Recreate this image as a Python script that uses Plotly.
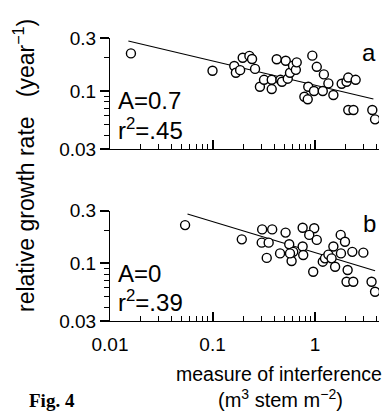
import plotly.graph_objects as go
from plotly.subplots import make_subplots

# ---- data ----
top_x = [0.016, 0.100, 0.163, 0.169, 0.186, 0.197, 0.229, 0.243, 0.26, 0.29,
         0.318, 0.378, 0.378, 0.423, 0.46, 0.476, 0.518, 0.542, 0.57, 0.61,
         0.65, 0.663, 0.787, 0.849, 0.859, 0.941, 0.977, 1.04, 1.19, 1.22,
         1.35, 1.51, 1.82, 2.03, 2.11, 2.49, 2.11, 2.37, 3.62, 3.85]
top_y = [0.218, 0.152, 0.168, 0.146, 0.154, 0.199, 0.207, 0.194, 0.158, 0.109,
         0.126, 0.126, 0.104, 0.193, 0.126, 0.121, 0.187, 0.129, 0.146, 0.169,
         0.155, 0.181, 0.0887, 0.0841, 0.109, 0.208, 0.1, 0.165, 0.1, 0.141,
         0.117, 0.092, 0.116, 0.121, 0.132, 0.126, 0.0673, 0.0673, 0.0673, 0.0555]
top_fit_x = [0.0151, 3.71]
top_fit_y = [0.282, 0.0846]

bot_x = [0.054, 0.193, 0.305, 0.382, 0.302, 0.353, 0.338, 0.516, 0.456, 0.56,
         0.591, 0.613, 0.57, 0.757, 0.757, 0.767, 0.982, 0.878, 1.04, 0.96,
         1.19, 1.25, 1.35, 1.45, 1.51, 1.57, 1.78, 1.96, 1.79, 2.31,
         2.08, 2.03, 2.36, 2.96, 3.56, 3.85]
bot_y = [0.222, 0.165, 0.203, 0.203, 0.154, 0.154, 0.112, 0.19, 0.123, 0.149,
         0.105, 0.127, 0.123, 0.21, 0.142, 0.119, 0.208, 0.181, 0.163, 0.0839,
         0.1035, 0.111, 0.12, 0.111, 0.142, 0.093, 0.181, 0.157, 0.123, 0.127,
         0.0869, 0.068, 0.068, 0.125, 0.068, 0.0553]
bot_fit_x = [0.057, 3.85]
bot_fit_y = [0.28, 0.0857]

x_major = [0.01, 0.1, 1]
x_minor = [0.02, 0.03, 0.04, 0.05, 0.06, 0.07, 0.08, 0.09,
           0.2, 0.3, 0.4, 0.5, 0.6, 0.7, 0.8, 0.9, 2, 3, 4]
y_major = [0.03, 0.1, 0.3]
y_minor = [0.04, 0.05, 0.06, 0.07, 0.08, 0.09, 0.2]

panel_stats = [("A=0.7", "r<sup>2</sup>=.45", "a"), ("A=0", "r<sup>2</sup>=.39", "b")]

# ---- figure ----
FONT = "Liberation Sans, Arial, sans-serif"
fig = make_subplots(rows=2, cols=1, vertical_spacing=0.218)

marker = dict(symbol="circle", size=9, color="white", line=dict(color="black", width=1.4))
for row, (xs, ys, fx, fy) in enumerate([(top_x, top_y, top_fit_x, top_fit_y),
                                         (bot_x, bot_y, bot_fit_x, bot_fit_y)], start=1):
    fig.add_trace(go.Scatter(x=fx, y=fy, mode="lines", line=dict(color="black", width=1.2),
                             showlegend=False, hoverinfo="skip"), row=row, col=1)
    fig.add_trace(go.Scatter(x=xs, y=ys, mode="markers", marker=marker,
                             showlegend=False), row=row, col=1)

L, R, T, B = 110, 13, 38, 96
W, H = 392, 417
pw, ph = W - L - R, H - T - B

def px(xp):
    return (xp - L) / pw

def py(yp):
    return (H - B - yp) / ph

fig.update_xaxes(type="log", range=[-2, 0.624], showline=True, linecolor="black",
                 showgrid=False, ticks="inside", ticklen=9, tickwidth=1.5, tickcolor="black",
                 tickmode="array", tickvals=x_major,
                 minor=dict(ticks="inside", ticklen=5, tickwidth=1, tickcolor="black",
                            tickmode="array", tickvals=x_minor))
fig.update_yaxes(type="log", range=[-1.5229, -0.5229], showline=True, linecolor="black",
                 showgrid=False, ticks="outside", ticklen=9, tickwidth=1.5, tickcolor="black",
                 tickmode="array", tickvals=y_major,
                 minor=dict(ticks="outside", ticklen=5, tickwidth=1, tickcolor="black",
                            tickmode="array", tickvals=y_minor))
fig.update_xaxes(showticklabels=False, row=1, col=1)
fig.update_xaxes(ticklabelstandoff=6, row=2, col=1)

fig.update_layout(
    width=W, height=H,
    margin=dict(l=L, r=R, t=T, b=B),
    plot_bgcolor="white",
    font=dict(family=FONT, size=19, color="black"),
    yaxis=dict(domain=[py(149), 1.0]),
    yaxis2=dict(domain=[0.0, py(210.7)]),
)

ann = []
for (a_txt, r_txt, lab), (ya, yr, yl) in zip(panel_stats, [(100, 129, 52), (273, 301, 223)]):
    ann.append(dict(text=a_txt, x=px(116), y=py(ya), xanchor="left", yanchor="middle",
                    font=dict(size=24)))
    ann.append(dict(text=r_txt, x=px(116), y=py(yr), xanchor="left", yanchor="middle",
                    font=dict(size=24)))
    ann.append(dict(text=lab, x=px(369), y=py(yl), xanchor="center", yanchor="middle",
                    font=dict(size=24)))

ann.append(dict(text="relative growth rate   (year<sup>−1</sup>)", textangle=-90,
                x=px(24), y=py(166), xanchor="center", yanchor="middle", font=dict(size=23)))
ann.append(dict(text="measure of interference", x=px(279), y=py(374),
                xanchor="center", yanchor="middle", font=dict(size=19.5)))
ann.append(dict(text="(m<sup>3</sup> stem m<sup>−2</sup>)", x=px(280), y=py(398),
                xanchor="center", yanchor="middle", font=dict(size=20)))
ann.append(dict(text="<b>Fig. 4</b>", x=px(27), y=py(400), xanchor="left", yanchor="middle",
                font=dict(size=19, family="Liberation Serif, Times New Roman, serif")))

for a in ann:
    a.update(xref="paper", yref="paper", showarrow=False)
    a["font"] = dict(a["font"])
    a["font"].setdefault("family", FONT)
    a["font"]["color"] = "black"
fig.update_layout(annotations=ann)

fig.write_html("out.html", config={"displayModeBar": False},
               post_script="document.body.style.margin='0';document.body.style.overflow='hidden';")
